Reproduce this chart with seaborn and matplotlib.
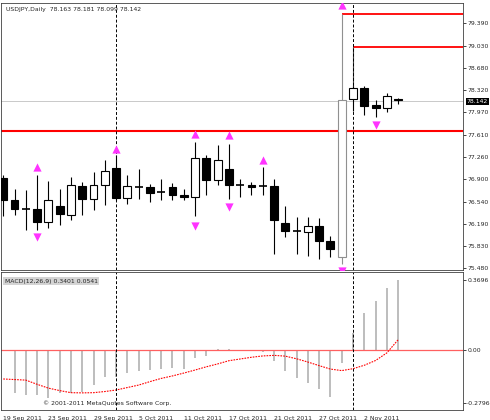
import matplotlib
matplotlib.use("Agg")
import matplotlib.pyplot as plt
import seaborn as sns
import numpy as np
import pandas as pd

sns.set_style("white")
plt.rcParams['font.family'] = ['DejaVu Sans']

# daily USDJPY candles
opens = [76.91, 76.57, 76.43, 76.43, 76.21, 76.47, 76.33, 76.79, 76.58, 76.81, 77.07, 76.60,
         76.78, 76.77, 76.70, 76.77, 76.65, 76.62, 77.24, 76.88, 77.06, 76.81, 76.81, 76.79,
         76.79, 76.20, 76.08, 76.06, 76.15, 75.92, 75.66, 78.18, 78.35, 78.09, 78.04, 78.18]
highs = [76.96, 76.74, 76.73, 76.96, 76.87, 76.74, 76.93, 76.86, 77.02, 77.20, 77.28, 76.97,
         77.06, 76.82, 76.90, 76.84, 76.74, 77.49, 77.29, 77.45, 77.46, 76.90, 76.86, 77.09,
         76.90, 76.47, 76.29, 76.30, 76.28, 75.99, 79.54, 78.38, 78.38, 78.16, 78.27, 78.19]
lows = [76.31, 76.33, 76.09, 76.09, 76.12, 76.17, 76.24, 76.32, 76.40, 76.48, 76.56, 76.51,
        76.58, 76.54, 76.57, 76.56, 76.57, 76.31, 76.65, 76.81, 76.58, 76.61, 76.65, 76.65,
        75.71, 75.97, 75.70, 75.67, 75.63, 75.65, 75.54, 77.99, 77.93, 77.89, 77.97, 78.10]
closes = [76.57, 76.42, 76.44, 76.21, 76.57, 76.34, 76.80, 76.58, 76.81, 77.03, 76.60, 76.79,
          76.79, 76.68, 76.71, 76.65, 76.62, 77.24, 76.88, 77.20, 76.81, 76.82, 76.78, 76.80,
          76.25, 76.07, 76.09, 76.15, 75.91, 75.78, 78.17, 78.35, 78.06, 78.04, 78.23, 78.16]

up_idx = [3, 10, 17, 20, 23, 30]
up_price = [77.09, 77.38, 77.62, 77.60, 77.20, 79.68]
dn_idx = [3, 17, 20, 30, 33]
dn_price = [75.97, 76.16, 76.45, 75.44, 77.77]

macd_hist = [np.nan, -0.224, -0.236, -0.236, -0.254, -0.228, -0.224, -0.219, -0.184, -0.144,
             -0.140, -0.123, -0.109, -0.105, -0.102, -0.096, -0.100, -0.044, -0.030, 0.007,
             0.0035, -0.002, -0.007, -0.010, -0.056, -0.109, -0.149, -0.175, -0.207, -0.245,
             -0.067, 0.0875, 0.193, 0.259, 0.324, 0.3675]
macd_signal = [-0.152, -0.155, -0.158, -0.180, -0.200, -0.213, -0.224, -0.225, -0.224, -0.218,
               -0.210, -0.197, -0.184, -0.166, -0.149, -0.136, -0.121, -0.105, -0.088, -0.073,
               -0.056, -0.047, -0.038, -0.031, -0.028, -0.032, -0.046, -0.063, -0.082, -0.100,
               -0.108, -0.098, -0.080, -0.055, -0.015, 0.054]

price_ticks = [79.390, 79.030, 78.680, 78.320, 77.970, 77.610, 77.260, 76.900, 76.540, 76.190, 75.830, 75.480]
date_idx = [0, 4, 8, 12, 16, 20, 24, 28, 32]
date_labels = ["19 Sep 2011", "23 Sep 2011", "29 Sep 2011", "5 Oct 2011", "11 Oct 2011",
               "17 Oct 2011", "21 Oct 2011", "27 Oct 2011", "2 Nov 2011"]

df = pd.DataFrame({"o": opens, "h": highs, "l": lows, "c": closes,
                   "hist": macd_hist, "sig": macd_signal})
df["i"] = np.arange(len(df))

fig = plt.figure(figsize=(4.9, 4.2), dpi=100)
ax = fig.add_axes([1/490, 1-270/420, 462/490, 267/420])
ax2 = fig.add_axes([1/490, 10/420, 462/490, 138/420])
xlim = (-0.2, 40.75)
fs = 4.4

# --- price panel ---
ax.axhline(78.142, color="#c0c0c0", lw=0.6)
ax.axhline(77.67, color="red", lw=1.5)
ax.hlines(79.54, 30, xlim[1], color="red", lw=1.3)
ax.hlines(79.01, 31, xlim[1], color="red", lw=1.3)
ax.vlines(31, 78.35, 79.01, color="#404040", lw=0.8)
for xv in [10, 31]:
    ax.axvline(xv, color="black", lw=0.7, ls=(0, (3, 2)))

for r in df.itertuples():
    edge = "#909090" if r.i == 30 else "black"
    ax.vlines(r.i, r.l, r.h, color=edge, lw=0.8, zorder=2)
    lo, hi = min(r.o, r.c), max(r.o, r.c)
    if hi - lo < 0.02:
        ax.hlines(r.o, r.i - 0.35, r.i + 0.35, color="black", lw=1.2, zorder=3)
    else:
        fc = "white" if r.c > r.o else "black"
        ax.add_patch(plt.Rectangle((r.i - 0.35, lo), 0.7, hi - lo, fc=fc, ec=edge, lw=0.8, zorder=3))

ax.scatter(up_idx, up_price, marker="^", s=35, color="#ff33ff", zorder=4, lw=0)
ax.scatter(dn_idx, dn_price, marker="v", s=35, color="#ff33ff", zorder=4, lw=0)

ax.set_xlim(*xlim)
ax.set_ylim(75.45, 79.71)
ax.yaxis.tick_right()
ax.set_yticks(price_ticks)
ax.set_yticklabels([f"{v:.3f}" for v in price_ticks], fontsize=fs)
ax.set_xticks([])
ax.tick_params(axis="y", length=2, pad=1, width=0.6)
ax.text(0.01, 0.985, "USDJPY,Daily  78.163 78.181 78.099 78.142", transform=ax.transAxes,
        fontsize=fs, va="top")
ax.text(1.008, 78.142, "78.142", transform=ax.get_yaxis_transform(), fontsize=fs, color="white",
        va="center", bbox=dict(fc="black", ec="none", pad=0.8))

# --- MACD panel ---
ax2.vlines(df["i"], 0, df["hist"], color="#b8b8b8", lw=1.3)
ax2.axhline(0, color="#ff6060", lw=0.9)
sns.lineplot(data=df, x="i", y="sig", color="red", lw=0.8, ls=(0, (1.5, 1)), ax=ax2)
ax2.axvline(10, color="black", lw=0.7, ls=(0, (3, 2)))
ax2.axvline(31, color="black", lw=0.7, ls=(0, (3, 2)))
ax2.set_xlim(*xlim)
ax2.set_ylim(-0.315, 0.41)
ax2.yaxis.tick_right()
ax2.set_yticks([0.3696, 0.0, -0.2796])
ax2.set_yticklabels(["0.3696", "0.00", "-0.2796"], fontsize=fs)
ax2.tick_params(axis="y", length=2, pad=1, width=0.6)
ax2.set_xticks(date_idx)
ax2.set_xticklabels(date_labels, fontsize=fs, ha="left")
ax2.tick_params(axis="x", length=3, pad=1, width=0.6)
ax2.set_xlabel("")
ax2.set_ylabel("")
ax2.text(0.008, 0.95, "MACD(12,26,9) 0.3401 0.0541", transform=ax2.transAxes, fontsize=fs,
         va="top", bbox=dict(fc="#d4d4d4", ec="none", pad=1))
ax2.text(0.09, 0.03, "© 2001-2011 MetaQuotes Software Corp.", transform=ax2.transAxes,
         fontsize=fs, va="bottom")

for a in (ax, ax2):
    for s in a.spines.values():
        s.set_linewidth(0.6)
        s.set_color("#404040")

fig.savefig("out.png", dpi=100)
